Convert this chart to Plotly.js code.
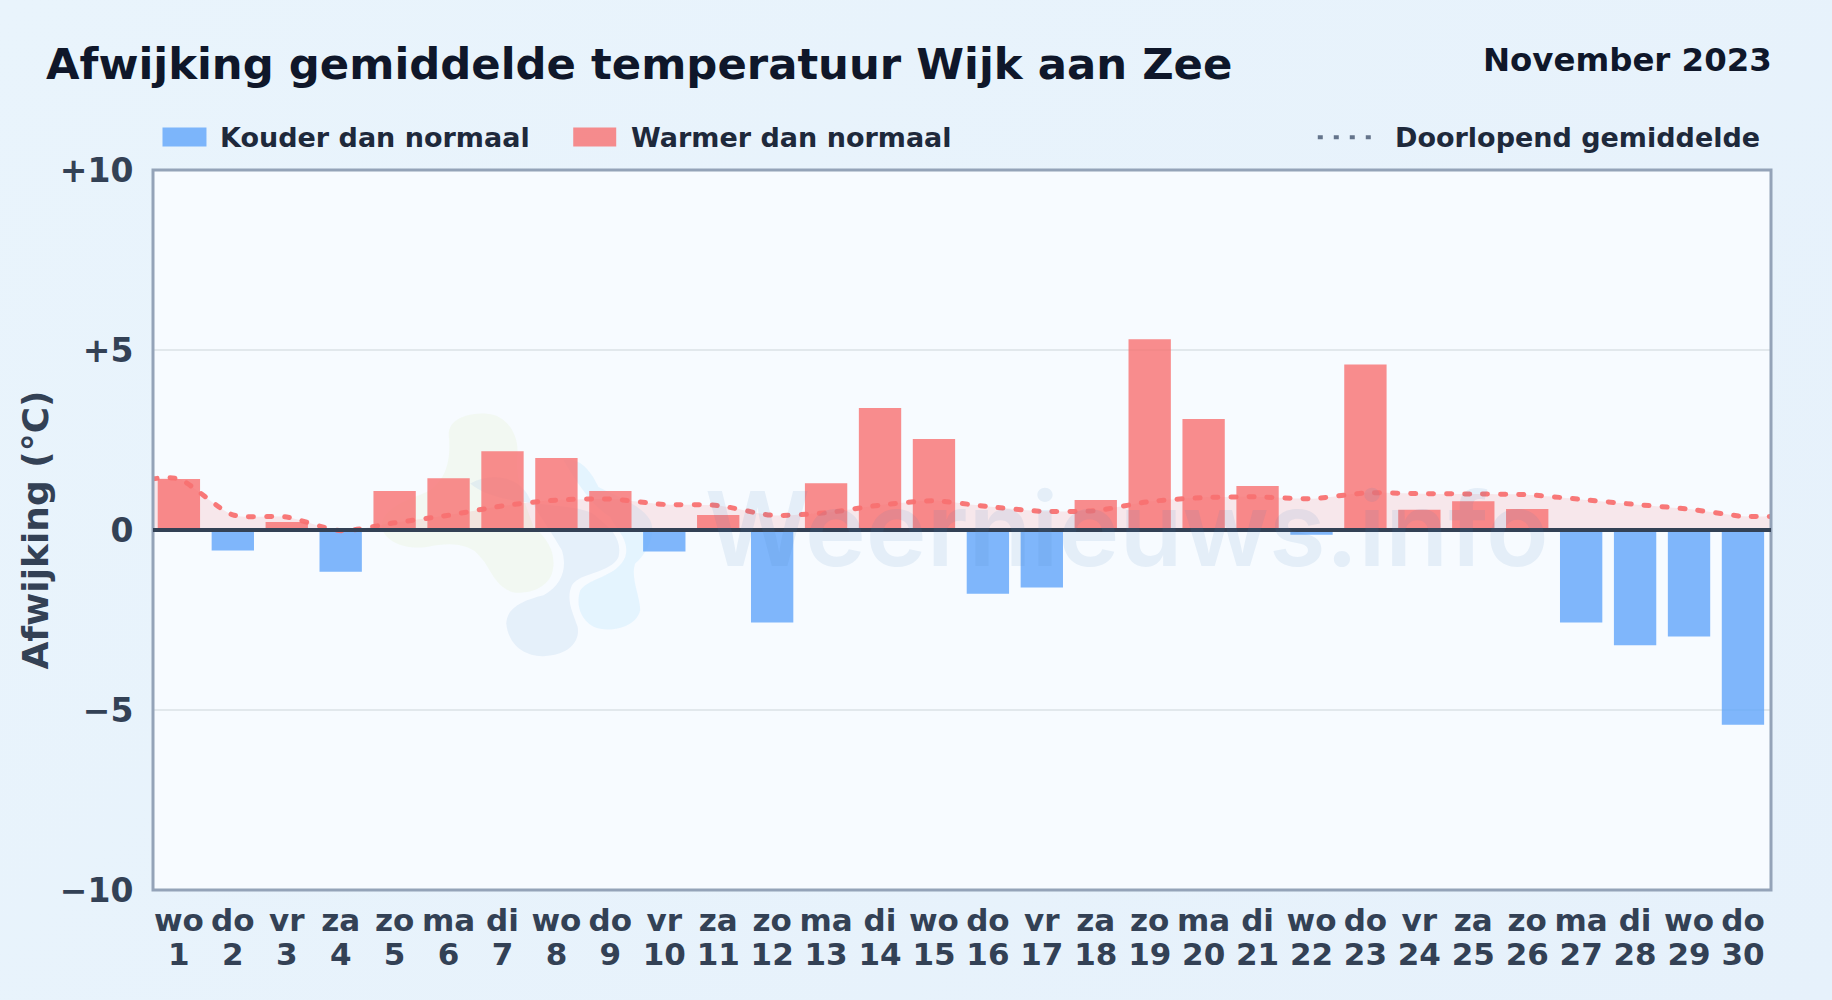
<!DOCTYPE html>
<html><head><meta charset="utf-8">
<script src="https://cdn.plot.ly/plotly-3.0.1.min.js"></script>
<style>html,body{margin:0;padding:0;width:1832px;height:1000px;overflow:hidden;background:linear-gradient(135deg,#e9f4fc,#e6f1fb)}</style>
</head><body><div id="chart" style="width:1832px;height:1000px"></div>
<script>
const days = [1,2,3,4,5,6,7,8,9,10,11,12,13,14,15,16,17,18,19,20,21,22,23,24,25,26,27,28,29,30];
const weekdays = ['wo','do','vr','za','zo','ma','di','wo','do','vr','za','zo','ma','di','wo','do','vr','za','zo','ma','di','wo','do','vr','za','zo','ma','di','wo','do'];
const deviation = [1.42,-0.57,0.22,-1.16,1.08,1.44,2.19,2.0,1.08,-0.6,0.42,-2.57,1.3,3.39,2.53,-1.77,-1.6,0.83,5.3,3.08,1.22,-0.13,4.6,0.56,0.8,0.58,-2.57,-3.2,-2.96,-5.41];
const runningX = [0.5,1,2,3,4,5,6,7,8,9,10,11,12,13,14,15,16,17,18,19,20,21,22,23,24,25,26,27,28,29,30,30.55];
const runningMean = [1.42,1.42,0.42,0.36,-0.02,0.2,0.41,0.67,0.83,0.86,0.71,0.68,0.41,0.48,0.69,0.81,0.65,0.52,0.54,0.79,0.9,0.92,0.87,1.03,1.01,1.0,0.98,0.85,0.71,0.58,0.38,0.38];
const yTickVals = [10,5,0,-5,-10];
const yTickText = ['+10','+5','0','−5','−10'];
const titleText = 'Afwijking gemiddelde temperatuur Wijk aan Zee';
const dateText = 'November 2023';
const legendCold = 'Kouder dan normaal';
const legendWarm = 'Warmer dan normaal';
const legendMean = 'Doorlopend gemiddelde';
const yTitle = 'Afwijking (°C)';
const watermark = 'Weernieuws.info';

const W = 1832, H = 1000, L = 152.5, R = 1771.5, T = 169.5, B = 890;
const FONT = '"DejaVu Sans", sans-serif';
const px = x => (x - L) / (R - L), py = y => (B - y) / (B - T);
const blob = (pts) => {
  const p = ([x, y]) => `${(px(150 + x/3)).toFixed(5)},${(py(400 + y/3)).toFixed(5)}`;
  let s = 'M' + p(pts[0]);
  for (let i = 1; i < pts.length; i += 3) s += ' C' + p(pts[i]) + ' ' + p(pts[i+1]) + ' ' + p(pts[i+2]);
  return s + ' Z';
};
const green = [[895,100],[900,50],[960,38],[1010,40],[1080,45],[1110,120],[1100,170],[1095,230],[1120,300],[1150,380],[1200,420],[1220,470],[1205,520],[1190,565],[1130,585],[1085,575],[1030,555],[1020,500],[990,470],[960,430],[900,425],[830,440],[760,450],[700,420],[695,380],[690,320],[800,290],[840,270],[880,240],[905,190],[895,100]];
const mid = [[960,250],[1020,215],[1100,230],[1130,280],[1150,320],[1200,390],[1235,450],[1250,500],[1240,550],[1180,585],[1120,600],[1070,620],[1068,670],[1075,740],[1130,770],[1180,768],[1260,765],[1290,720],[1282,680],[1270,640],[1245,600],[1265,555],[1290,515],[1380,520],[1405,470],[1415,420],[1390,390],[1340,350],[1300,300],[1050,330],[960,250]];
const light = [[1240,180],[1290,170],[1320,210],[1345,260],[1400,290],[1470,310],[1500,360],[1520,400],[1490,460],[1455,490],[1440,530],[1470,590],[1470,630],[1460,680],[1380,700],[1330,680],[1280,650],[1280,600],[1290,570],[1320,530],[1400,530],[1425,470],[1440,420],[1400,390],[1380,350],[1330,320],[1280,250],[1240,180]];
const shape = (path, fill) => ({type:'path', xref:'paper', yref:'paper', layer:'below', path, fillcolor:fill, line:{width:0}});

const coldIdx = days.map((d,i)=>i).filter(i=>deviation[i]<0);
const warmIdx = days.map((d,i)=>i).filter(i=>deviation[i]>=0);
const traces = [
 {type:'scatter', mode:'lines', x:runningX, y:runningMean, fill:'tozeroy', fillcolor:'rgba(248,113,113,0.14)', line:{width:0,shape:'spline',smoothing:0.7}, hoverinfo:'skip', showlegend:false},
 {type:'bar', name:legendCold, x:coldIdx.map(i=>days[i]), y:coldIdx.map(i=>deviation[i]), width:0.785, marker:{color:'rgba(96,165,250,0.8)',line:{width:0}}, showlegend:false},
 {type:'bar', name:legendWarm, x:warmIdx.map(i=>days[i]), y:warmIdx.map(i=>deviation[i]), width:0.785, marker:{color:'rgba(248,113,113,0.8)',line:{width:0}}, showlegend:false},
 {type:'scatter', mode:'lines', name:legendMean, x:runningX, y:runningMean, line:{color:'rgba(248,113,113,0.95)',width:5,dash:'5px,13px',shape:'spline',smoothing:0.7}, showlegend:false},
 {type:'scatter', mode:'lines', xaxis:'x2', x:days, y:days.map(()=>null), hoverinfo:'skip', showlegend:false}
];
const xref = {xref:'paper', yref:'paper', showarrow:false};
const xBase = {type:'linear', range:[0.52,30.52], tickmode:'array', tickvals:days, tickfont:{family:FONT,size:31,weight:700,color:'#334155'}, tickangle:0, showgrid:false, zeroline:false, showline:false, ticks:'outside', tickcolor:'rgba(0,0,0,0)', automargin:false};
const layout = {
 width:W, height:H, margin:{l:L,r:W-R,t:T,b:H-B,pad:0},
 paper_bgcolor:'rgba(0,0,0,0)', plot_bgcolor:'#f7fbff',
 barmode:'overlay', showlegend:false,
 font:{family:FONT,color:'#334155'},
 title:{text:titleText, font:{family:FONT,size:43.35,weight:700,color:'#0f172a'}, x:46/W, xanchor:'left', xref:'container', yref:'container', y:1-64/H, yanchor:'middle', pad:{l:0,r:0,t:0,b:0}},
 xaxis:{...xBase, ticktext:weekdays, ticklen:3},
 xaxis2:{...xBase, ticktext:days.map(String), ticklen:37, overlaying:'x', side:'bottom', anchor:'y'},
 yaxis:{range:[-10,10], tickmode:'array', tickvals:yTickVals, ticktext:yTickText, tickfont:{family:FONT,size:33,weight:700,color:'#334155'}, showgrid:true, gridcolor:'#e2e8ec', gridwidth:2, zeroline:false, showline:false, ticks:'outside', ticklen:12, tickcolor:'rgba(0,0,0,0)', automargin:false,
   title:{text:yTitle, font:{family:FONT,size:36,weight:700,color:'#334155'}, standoff:0}},
 shapes:[
  shape(blob(green),'rgba(215,235,165,0.15)'),
  shape(blob(light),'rgba(180,225,250,0.28)'),
  shape(blob(mid),'rgba(170,200,230,0.22)'),
  {type:'rect', xref:'paper', yref:'paper', x0:0, x1:1, y0:0, y1:1, layer:'above', line:{color:'#94a3b8',width:3}},
  {type:'line', xref:'paper', yref:'y', x0:0, x1:1, y0:0, y1:0, layer:'above', line:{color:'#334155',width:4}},
  {type:'rect', xref:'paper', yref:'paper', x0:px(162), x1:px(206), y0:py(127), y1:py(146), fillcolor:'rgba(96,165,250,0.8)', line:{width:0}},
  {type:'rect', xref:'paper', yref:'paper', x0:px(573), x1:px(616), y0:py(127), y1:py(146), fillcolor:'rgba(248,113,113,0.8)', line:{width:0}},
  {type:'line', xref:'paper', yref:'paper', x0:px(1318), x1:px(1374), y0:py(136.7), y1:py(136.7), line:{color:'#64748b',width:4,dash:'5px,11px'}}
 ],
 annotations:[
  {...xref, text:watermark, x:px(1127), y:py(528), xanchor:'center', yanchor:'middle', font:{family:'Inter, sans-serif',size:103,weight:600,color:'rgba(70,130,190,0.1)'}},
  {...xref, text:dateText, x:px(1775), y:py(59), xanchor:'right', yanchor:'middle', font:{family:FONT,size:32.4,weight:700,color:'#0f172a'}},
  {...xref, text:legendCold, x:px(217.5), y:py(136.5), xanchor:'left', yanchor:'middle', font:{family:FONT,size:27,weight:700,color:'#1e293b'}},
  {...xref, text:legendWarm, x:px(628.5), y:py(136.5), xanchor:'left', yanchor:'middle', font:{family:FONT,size:27,weight:700,color:'#1e293b'}},
  {...xref, text:legendMean, x:px(1762.5), y:py(136.5), xanchor:'right', yanchor:'middle', font:{family:FONT,size:27,weight:700,color:'#1e293b'}}
 ]
};
Plotly.newPlot('chart', traces, layout, {displayModeBar:false, responsive:false}).then(gd => {
  gd.querySelectorAll('.scatterlayer .js-line').forEach(p => { p.style.strokeLinecap = 'round'; });
});
</script></body></html>
